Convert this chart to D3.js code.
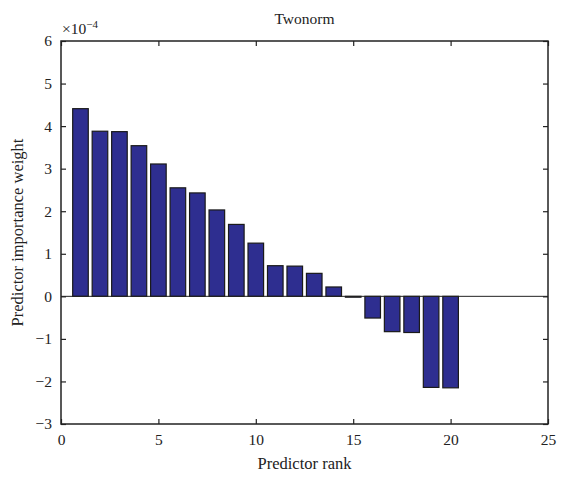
<!DOCTYPE html>
<html>
<head>
<meta charset="utf-8">
<script src="https://cdn.jsdelivr.net/npm/d3@7"></script>
<style>
  body { margin: 0; background: #fff; }
  text { font-family: "Liberation Serif", "DejaVu Serif", serif; fill: #222; }
</style>
</head>
<body>
<div id="viz"></div>
<script>
// chart values (weights in units of 1e-4)
var ranks = d3.range(1, 21);
var weights = [4.41, 3.88, 3.87, 3.54, 3.11, 2.55, 2.43, 2.03, 1.69, 1.25,
               0.72, 0.71, 0.54, 0.22, -0.02, -0.51, -0.83, -0.85, -2.14, -2.15];
var xTicks = [0, 5, 10, 15, 20, 25];
var yTicks = [-3, -2, -1, 0, 1, 2, 3, 4, 5, 6];

var W = 562, H = 480;
const margin = {top: 41, right: 14, bottom: 56, left: 61},
  width = W - margin.left - margin.right,
  height = H - margin.top - margin.bottom;

const root = d3.select("#viz")
  .append("svg")
    .attr("width", W)
    .attr("height", H);

const svg = root.append("g")
    .attr("transform", `translate(${margin.left},${margin.top})`);

const x = d3.scaleLinear().domain([0, 25]).range([0, width]);
const y = d3.scaleLinear().domain([-3, 6]).range([height, 0]);

var barW = x(0.8) - x(0);

// bars
svg.selectAll("rect.bar")
  .data(ranks)
  .enter().append("rect")
    .attr("class", "bar")
    .attr("x", function(d) { return x(d) - barW / 2; })
    .attr("y", function(d, i) { return y(Math.max(0, weights[i])); })
    .attr("width", barW)
    .attr("height", function(d, i) { return Math.abs(y(weights[i]) - y(0)); })
    .attr("fill", "#2e2e90")
    .attr("stroke", "#1a1a1a")
    .attr("stroke-width", 1.2);

// baseline
svg.append("line")
  .attr("x1", 0).attr("x2", width)
  .attr("y1", y(0)).attr("y2", y(0))
  .attr("stroke", "#222").attr("stroke-width", 1);

// axes (ticks point inward, MATLAB style)
const tickLen = 5;
svg.append("g")
  .attr("transform", `translate(0,${height})`)
  .call(d3.axisBottom(x).tickValues(xTicks).tickSizeInner(-tickLen).tickSizeOuter(0).tickPadding(10))
  .call(g => g.select(".domain").remove());
svg.append("g")
  .call(d3.axisTop(x).tickValues(xTicks).tickSizeInner(-tickLen).tickSizeOuter(0).tickFormat(""))
  .call(g => g.select(".domain").remove());
svg.append("g")
  .call(d3.axisLeft(y).tickValues(yTicks).tickSizeInner(-tickLen).tickSizeOuter(0).tickPadding(9)
    .tickFormat(function(d) { return d < 0 ? "\u2212" + Math.abs(d) : d; }))
  .call(g => g.select(".domain").remove());
svg.append("g")
  .attr("transform", `translate(${width},0)`)
  .call(d3.axisRight(y).tickValues(yTicks).tickSizeInner(-tickLen).tickSizeOuter(0).tickFormat(""))
  .call(g => g.select(".domain").remove());

svg.selectAll(".tick line").attr("stroke", "#222").attr("stroke-width", 1.2);
svg.selectAll(".tick text")
  .style("font-family", "'Liberation Serif', serif")
  .style("font-size", "15.5px")
  .attr("fill", "#222");

// frame
svg.append("rect")
  .attr("width", width).attr("height", height)
  .attr("fill", "none").attr("stroke", "#222").attr("stroke-width", 1.5);

// exponent
var ex = root.append("text")
  .attr("x", margin.left + 1).attr("y", 34)
  .style("font-size", "15.5px");
ex.append("tspan").text("\u00d710");
ex.append("tspan").attr("dy", -6).style("font-size", "11px").text("\u22124");

// title
root.append("text")
  .attr("x", margin.left + width / 2).attr("y", 24)
  .attr("text-anchor", "middle")
  .style("font-size", "15.5px")
  .text("Twonorm");

// axis labels
root.append("text")
  .attr("x", margin.left + width / 2).attr("y", 469)
  .attr("text-anchor", "middle")
  .style("font-size", "16.5px")
  .text("Predictor rank");

root.append("text")
  .attr("transform", `translate(23,${margin.top + height / 2}) rotate(-90)`)
  .attr("text-anchor", "middle")
  .style("font-size", "16.5px")
  .text("Predictor importance weight");
</script>
</body>
</html>
